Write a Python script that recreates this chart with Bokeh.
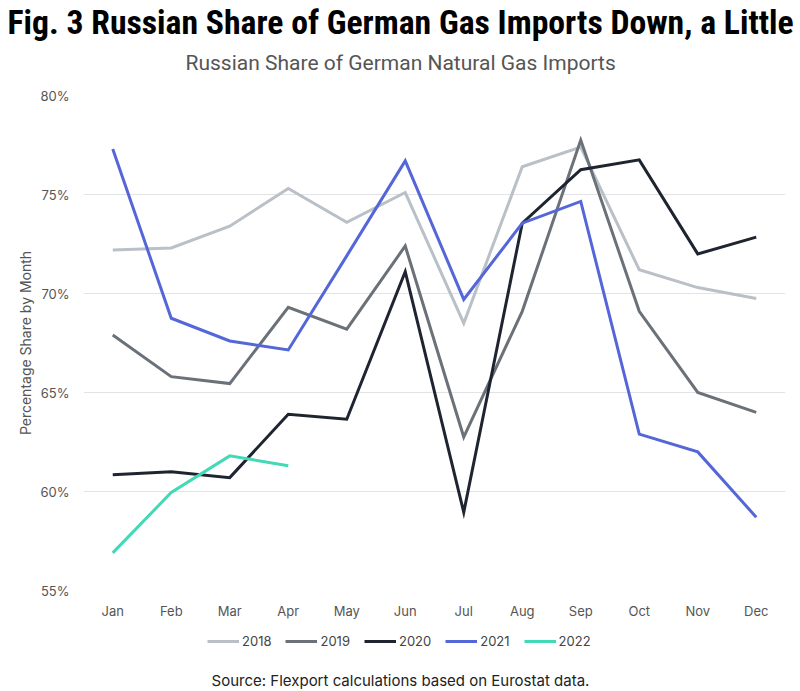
from bokeh.plotting import figure
from bokeh.layouts import column
from bokeh.models import (Title, Legend, LegendItem, FixedTicker, Label,
                          PrintfTickFormatter, Range1d, ColumnDataSource)
from bokeh.embed import file_html
from bokeh.resources import INLINE

# Monthly Russian share of German natural gas imports (%)
months = ["Jan", "Feb", "Mar", "Apr", "May", "Jun",
          "Jul", "Aug", "Sep", "Oct", "Nov", "Dec"]
share_2018 = [72.2, 72.3, 73.4, 75.3, 73.6, 75.1, 68.5, 76.4, 77.4, 71.2, 70.3, 69.75]
share_2019 = [67.9, 65.8, 65.45, 69.3, 68.2, 72.4, 62.75, 69.1, 77.75, 69.1, 65.0, 64.0]
share_2020 = [60.85, 61.0, 60.7, 63.9, 63.65, 71.1, 58.95, 73.55, 76.25, 76.75, 72.0, 72.85]
share_2021 = [77.3, 68.75, 67.6, 67.15, 71.9, 76.7, 69.7, 73.55, 74.65, 62.9, 62.0, 58.7]
share_2022 = [56.9, 59.95, 61.8, 61.3]
years = ["2018", "2019", "2020", "2021", "2022"]
colors = ["#b9c0c7", "#6b7178", "#1f2530", "#5567d8", "#42d9b6"]
y_ticks = [55, 60, 65, 70, 75, 80]

series = [share_2018, share_2019, share_2020, share_2021, share_2022]

TITLE = "Fig. 3 Russian Share of German Gas Imports Down, a Little"
SUBTITLE = "Russian Share of German Natural Gas Imports"
SOURCE = "Source: Flexport calculations based on Eurostat data."

TEXT_FONT = "Inter, 'Open Sans', sans-serif"
SUB_FONT = "Roboto, 'Noto Sans', sans-serif"
NARROW_FONT = "'Liberation Sans Narrow', 'Roboto Condensed', 'Arial Narrow', Roboto, sans-serif"

# the three stacked plots share the frame columns 83..785 of the 800px page
LEFT, RIGHT = 83, 15
FRAME_W = 800 - LEFT - RIGHT
HEAD_H, FOOT_H = 87, 66


def strip(height, **kw):
    f = figure(width=800, height=height, x_range=Range1d(LEFT, LEFT + FRAME_W),
               y_range=Range1d(0, height), x_axis_location=None, y_axis_location=None,
               output_backend="svg", toolbar_location=None,
               min_border_left=LEFT, min_border_right=RIGHT,
               min_border_top=0, min_border_bottom=0, **kw)
    f.outline_line_color = None
    f.grid.grid_line_color = None
    f.background_fill_color = "white"
    f.border_fill_color = "white"
    return f


# ---- heading: title panels stacked above an empty strip
head = strip(HEAD_H, title=TITLE)
head.title.text_font = NARROW_FONT
head.title.text_font_size = "33.7px"
head.title.text_font_style = "bold"
head.title.text_color = "#000000"
head.title.align = "left"
head.title.offset = -76
head.title.standoff = 0
head.add_layout(Title(text=SUBTITLE, text_font=SUB_FONT, text_font_size="21px",
                      text_font_style="normal", text_color="#555555",
                      align="left", offset=102, standoff=15), "above")

# ---- main chart: frame 702x495
p = figure(frame_width=FRAME_W, frame_height=495, x_range=months, y_range=Range1d(55, 80),
           output_backend="svg", toolbar_location=None, title=None,
           min_border_left=LEFT, min_border_right=RIGHT,
           min_border_top=8, min_border_bottom=35)
p.outline_line_color = None
p.background_fill_color = "white"
p.border_fill_color = "white"

p.xgrid.grid_line_color = None
p.ygrid.grid_line_color = "#e2e3e6"
p.ygrid.grid_line_width = 1

p.yaxis.ticker = FixedTicker(ticks=y_ticks)
p.yaxis.formatter = PrintfTickFormatter(format="%d%%")
for ax in (p.xaxis[0], p.yaxis[0]):
    ax.axis_line_color = None
    ax.major_tick_line_color = None
    ax.minor_tick_line_color = None
    ax.major_tick_out = 0
    ax.major_tick_in = 0
    ax.minor_tick_out = 0
    ax.minor_tick_in = 0
    ax.major_label_text_font = TEXT_FONT
    ax.major_label_text_font_size = "13px"
    ax.major_label_text_color = "#555555"
p.yaxis.major_label_standoff = 14
p.xaxis.major_label_standoff = 12
p.yaxis.axis_label = "Percentage Share by Month"
p.yaxis.axis_label_text_font = TEXT_FONT
p.yaxis.axis_label_text_font_size = "14px"
p.yaxis.axis_label_text_font_style = "normal"
p.yaxis.axis_label_text_color = "#555555"
p.yaxis.axis_label_standoff = 3

for vals, col in zip(series, colors):
    src = ColumnDataSource(dict(month=months[:len(vals)], share=vals))
    p.line("month", "share", source=src, line_color=col, line_width=3,
           line_join="miter")

# ---- footer: legend row and source note (frame x units are page pixels)
foot = strip(FOOT_H, title=None)
items = []
for year, vals, col in zip(years, series, colors):
    # hidden copies of each series act as the legend keys of this strip
    key = foot.line(x=list(range(len(vals))), y=vals, line_color=col,
                    line_width=3, visible=False)
    items.append(LegendItem(label=year, renderers=[key]))
legend = Legend(items=items, orientation="horizontal",
                location=(207 - LEFT, FOOT_H - 26),
                glyph_width=32, glyph_height=14, label_standoff=3,
                spacing=14, padding=0, margin=0, label_height=20,
                label_text_font=TEXT_FONT, label_text_font_size="13px",
                label_text_color="#444444", inactive_fill_alpha=0,
                border_line_color=None, background_fill_alpha=0)
foot.add_layout(legend, "center")
foot.add_layout(Label(x=400, y=FOOT_H - 55, text=SOURCE,
                      text_font=TEXT_FONT, text_font_size="15px",
                      text_color="#222222",
                      text_align="center", text_baseline="middle"))

page = column(head, p, foot, spacing=0)
open("out.html", "w").write(file_html(page, INLINE))
